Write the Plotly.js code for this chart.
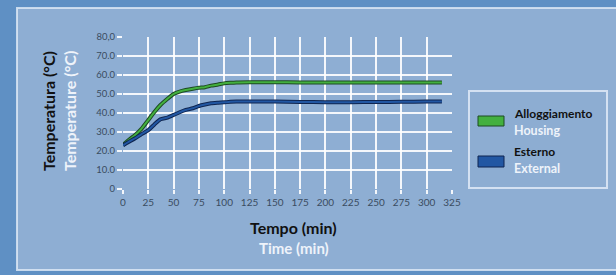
<!DOCTYPE html>
<html>
<head>
<meta charset="utf-8">
<script src="https://cdn.plot.ly/plotly-3.0.1.min.js"></script>
<style>html,body{margin:0;padding:0;background:#5f90c4;}#chart{width:616px;height:275px;}</style>
</head>
<body>
<div id="chart"></div>
<script>
// Time (min)
const timeMin = [0, 5, 12, 18, 25, 31, 37, 44, 50, 56, 62, 69, 75, 81, 87, 94, 100, 106, 112, 125, 150, 175, 200, 225, 250, 275, 300, 315];
// Alloggiamento / Housing
const housing = [23.2, 25.5, 28.4, 31.5, 36.3, 40.5, 44.2, 47.5, 50.0, 51.3, 52.1, 52.8, 53.3, 53.6, 54.4, 55.0, 55.6, 55.9, 56.1, 56.2, 56.2, 56.1, 56.1, 56.1, 56.1, 56.1, 56.1, 56.1];
// Esterno / External
const external = [23.0, 24.6, 26.7, 28.8, 31.0, 34.0, 36.7, 37.6, 39.0, 40.4, 41.6, 42.5, 43.7, 44.5, 45.1, 45.4, 45.6, 45.9, 46.0, 46.1, 46.1, 45.8, 45.7, 45.7, 45.8, 45.9, 46.0, 46.0];

const xTicks = [0, 25, 50, 75, 100, 125, 150, 175, 200, 225, 250, 275, 300, 325];
const yTicks = [0, 10, 20, 30, 40, 50, 60, 70, 80];
const yTickText = ["0", "10.0", "20.0", "30.0", "40.0", "50.0", "60.0", "70.0", "80,0"];

const seriesNames = ["Alloggiamento", "Esterno"];
const seriesNamesEn = ["Housing", "External"];
const seriesColors = ["#43b03f", "#2257a3"];
const seriesEdge = ["#1d4a22", "#0f2550"];

const FONT = "Lato, 'Open Sans', 'DejaVu Sans', sans-serif";

const traces = [];
[housing, external].forEach((ys, i) => {
  traces.push({x: timeMin, y: ys, mode: 'lines', line: {color: seriesEdge[i], width: 4, shape: 'spline', smoothing: 0.6}, hoverinfo: 'skip', showlegend: false});
  traces.push({x: timeMin, y: ys, mode: 'lines', name: seriesNames[i], line: {color: seriesColors[i], width: 2, shape: 'spline', smoothing: 0.6}, showlegend: false});
});

// helpers: pixel -> paper coords (plot area x 123..452, y 37..189)
const px = v => (v - 123) / 329;
const py = v => (189 - v) / 152;

function ann(text, x, y, opts) {
  return Object.assign({text: text, xref: 'paper', yref: 'paper', x: px(x), y: py(y),
    xanchor: 'center', yanchor: 'middle', showarrow: false}, opts);
}

const layout = {
  width: 616, height: 275,
  paper_bgcolor: '#5f90c4',
  plot_bgcolor: 'rgba(0,0,0,0)',
  margin: {l: 123, r: 164, t: 37, b: 86},
  showlegend: false,
  xaxis: {
    range: [0, 325], tickvals: xTicks, ticktext: xTicks.map(String),
    showgrid: true, gridcolor: 'rgba(255,255,255,0.9)', gridwidth: 2,
    zeroline: false, showline: false,
    ticks: 'outside', ticklen: 4, tickwidth: 2, tickcolor: 'rgba(255,255,255,0.9)',
    tickfont: {family: FONT, size: 10, color: '#3a4c60'}
  },
  yaxis: {
    range: [0, 80], tickvals: yTicks, ticktext: yTickText,
    showgrid: true, gridcolor: 'rgba(255,255,255,0.9)', gridwidth: 2,
    zeroline: false, showline: false,
    ticks: 'outside', ticklen: 5, tickwidth: 2, tickcolor: 'rgba(255,255,255,0.9)',
    tickfont: {family: FONT, size: 9.5, color: '#3a4c60'}
  },
  shapes: [
    {type: 'rect', xref: 'paper', yref: 'paper', layer: 'below',
     x0: px(17), x1: px(630), y0: py(270), y1: py(8),
     fillcolor: '#8eaed3', line: {color: 'rgba(225,235,248,0.8)', width: 2}},
    // legend box
    {type: 'rect', xref: 'paper', yref: 'paper',
     x0: px(469), x1: px(607), y0: py(188), y1: py(91),
     fillcolor: 'rgba(140,172,210,0.4)', line: {color: 'rgba(230,238,250,0.8)', width: 2}},
    // legend swatches
    {type: 'rect', xref: 'paper', yref: 'paper',
     x0: px(478), x1: px(504), y0: py(126), y1: py(116),
     fillcolor: seriesColors[0], line: {color: seriesEdge[0], width: 1}},
    {type: 'rect', xref: 'paper', yref: 'paper',
     x0: px(478), x1: px(504), y0: py(167), y1: py(156),
     fillcolor: seriesColors[1], line: {color: seriesEdge[1], width: 1}}
  ],
  annotations: [
    ann('<b>Temperatura (°C)</b>', 48, 111, {textangle: -90, font: {family: FONT, size: 16, color: '#111'}}),
    ann('<b>Temperature (°C)</b>', 69, 111, {textangle: -90, font: {family: FONT, size: 16, color: '#eef3fa'}}),
    ann('<b>Tempo (min)</b>', 293, 227, {font: {family: FONT, size: 16, color: '#111'}}),
    ann('<b>Time (min)</b>', 294, 248, {font: {family: FONT, size: 15, color: '#eef3fa'}}),
    ann('<b>' + seriesNames[0] + '</b>', 512, 113, {xanchor: 'left', font: {family: FONT, size: 12, color: '#111'}}),
    ann('<b>' + seriesNamesEn[0] + '</b>', 512, 130, {xanchor: 'left', font: {family: FONT, size: 12.5, color: '#eef3fa'}}),
    ann('<b>' + seriesNames[1] + '</b>', 512, 151, {xanchor: 'left', font: {family: FONT, size: 12, color: '#111'}}),
    ann('<b>' + seriesNamesEn[1] + '</b>', 512, 168, {xanchor: 'left', font: {family: FONT, size: 12.5, color: '#eef3fa'}})
  ]
};

Plotly.newPlot('chart', traces, layout, {displayModeBar: false, staticPlot: true});
</script>
</body>
</html>
